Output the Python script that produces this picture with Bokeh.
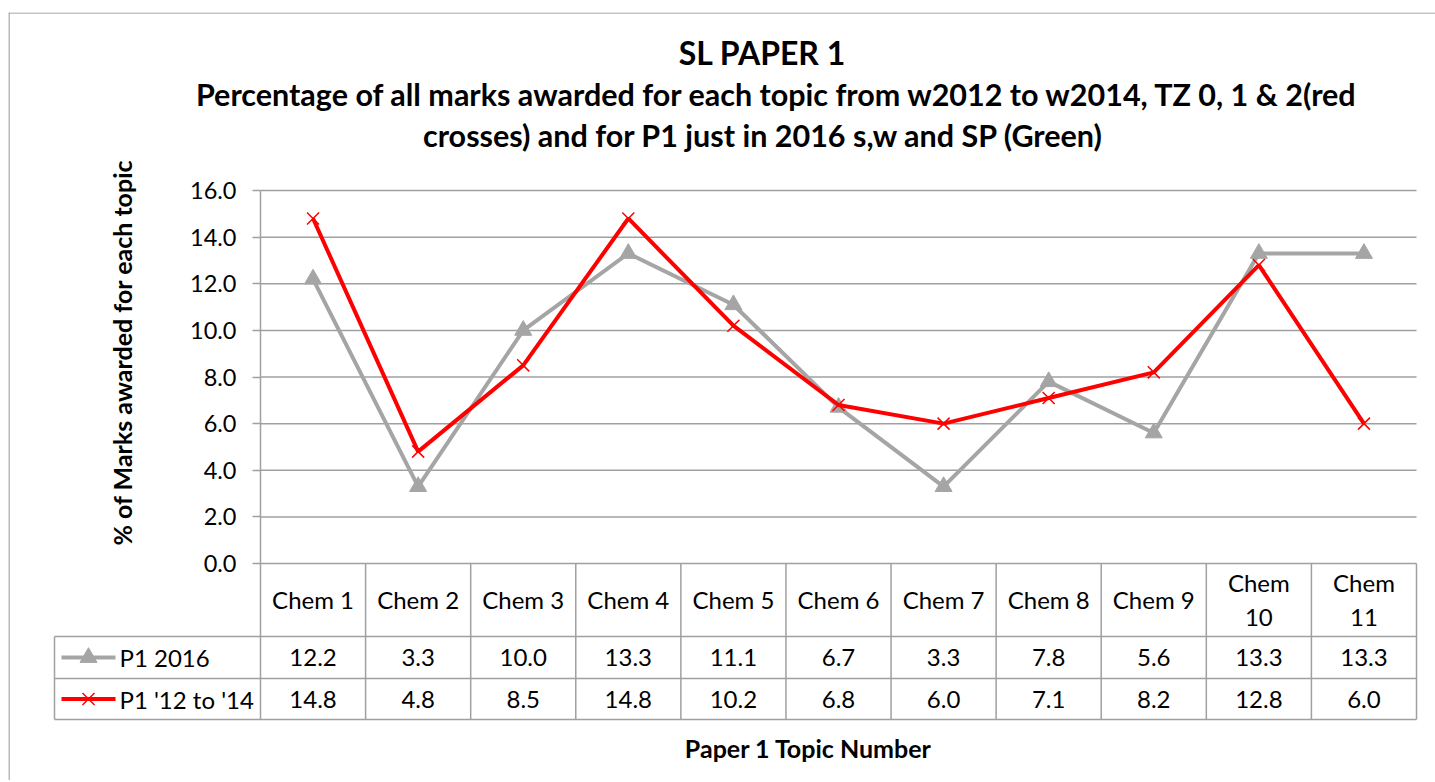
import math
from bokeh.plotting import figure
from bokeh.models import LinearAxis, FixedTicker, Range1d, NumeralTickFormatter
from bokeh.core.properties import value
from bokeh.embed import file_html
from bokeh.resources import INLINE

# ---------------- data ----------------
categories = ["Chem 1", "Chem 2", "Chem 3", "Chem 4", "Chem 5", "Chem 6",
              "Chem 7", "Chem 8", "Chem 9", "Chem\n10", "Chem\n11"]
p1_2016 = [12.2, 3.3, 10.0, 13.3, 11.1, 6.7, 3.3, 7.8, 5.6, 13.3, 13.3]
p1_12_14 = [14.8, 4.8, 8.5, 14.8, 10.2, 6.8, 6.0, 7.1, 8.2, 12.8, 6.0]
series_names = ["P1 2016", "P1 '12 to '14"]
y_ticks = [0, 2, 4, 6, 8, 10, 12, 14, 16]

title_text = "SL PAPER 1"
subtitle_lines = ["Percentage of all marks awarded for each topic from w2012 to w2014, TZ 0, 1 & 2(red",
                  "crosses) and for P1 just in 2016 s,w and SP (Green)"]
y_title = "% of Marks awarded for each topic"
x_title = "Paper 1 Topic Number"

# ---------------- layout (page pixels) ----------------
FONT = "Lato"
GRAY = "#a5a5a5"
RED = "#ff0000"
GRID = "#a0a0a0"

PAGE_L, PAGE_T = 8, 12
FW, FH = 1435 - PAGE_L, 780 - PAGE_T
PLOT_L, PLOT_R, PLOT_T, PLOT_B = 260, 1416, 190, 563
N = len(categories)
CW = (PLOT_R - PLOT_L) / N
PU = (PLOT_B - PLOT_T) / 16.0


def X(px):
    return (px - PLOT_L) / CW


def Y(py):
    return (PLOT_B - py) / PU


p = figure(frame_width=FW, frame_height=FH,
           x_range=Range1d(X(PAGE_L), X(PAGE_L + FW)),
           y_range=Range1d(Y(PAGE_T + FH), Y(PAGE_T)),
           x_axis_type=None, y_axis_type=None,
           toolbar_location=None, output_backend="svg",
           min_border=0, min_border_left=PAGE_L, min_border_top=PAGE_T,
           outline_line_color=None, background_fill_color="white",
           border_fill_color="white")

# outer chart border (top and left visible)
p.line(x=[X(PAGE_L), X(PAGE_L + FW)], y=[Y(PAGE_T + 0.5)] * 2, line_color="#8c8c8c", line_width=1.2)
p.line(x=[X(PAGE_L + 0.5)] * 2, y=[Y(PAGE_T), Y(PAGE_T + FH)], line_color="#8c8c8c", line_width=1.2)

# y axis
yaxis = LinearAxis(fixed_location=0, bounds=(0, 16),
                   ticker=FixedTicker(ticks=y_ticks),
                   formatter=NumeralTickFormatter(format="0.0"),
                   axis_line_color=GRID, axis_line_width=1.5,
                   major_tick_line_color=GRID, major_tick_line_width=1.5,
                   major_tick_out=8, major_tick_in=0,
                   minor_tick_line_color=None,
                   major_label_text_font=FONT, major_label_text_font_size="23.5px",
                   major_label_text_color="black", major_label_standoff=16)
p.add_layout(yaxis, "left")

# horizontal gridlines
p.segment(x0=[0] * len(y_ticks), x1=[N] * len(y_ticks), y0=y_ticks, y1=y_ticks,
          line_color=GRID, line_width=1.5)

# ---------------- data table ----------------
row1_b, row2_b, row3_b = Y(636), Y(678), Y(719)
leg_l = X(54)
p.segment(x0=list(range(N + 1)), x1=list(range(N + 1)), y0=[0] * (N + 1), y1=[row3_b] * (N + 1),
          line_color=GRID, line_width=1.5)
p.segment(x0=[leg_l], x1=[leg_l], y0=[row1_b], y1=[row3_b], line_color=GRID, line_width=1.5)
p.segment(x0=[leg_l] * 3, x1=[N] * 3, y0=[row1_b, row2_b, row3_b], y1=[row1_b, row2_b, row3_b],
          line_color=GRID, line_width=1.5)

TS = "24px"
xc = [i + 0.5 for i in range(N)]
p.text(x=xc, y=[Y(599)] * N, text=categories, text_align="center", text_baseline="middle",
       text_font=value(FONT), text_font_size=TS, text_color="black", text_line_height=1.15)
p.text(x=xc, y=[Y(657)] * N, text=[f"{v:.1f}" for v in p1_2016], text_align="center",
       text_baseline="middle", text_font=value(FONT), text_font_size=TS, text_color="black")
p.text(x=xc, y=[Y(698.5)] * N, text=[f"{v:.1f}" for v in p1_12_14], text_align="center",
       text_baseline="middle", text_font=value(FONT), text_font_size=TS, text_color="black")

# legend keys in table
p.line(x=[X(61), X(115)], y=[Y(657)] * 2, line_color=GRAY, line_width=4)
p.scatter(x=[X(88)], y=[Y(657)], marker="triangle", size=17, fill_color=GRAY, line_color=GRAY)
p.line(x=[X(61), X(115)], y=[Y(698.5)] * 2, line_color=RED, line_width=4)
p.scatter(x=[X(88)], y=[Y(698.5)], marker="x", size=17, line_color=RED, line_width=1.5)
p.text(x=[X(119)] * 2, y=[Y(657), Y(698.5)], text=series_names, text_align="left",
       text_baseline="middle", text_font=value(FONT), text_font_size=TS, text_color="black")

# ---------------- series ----------------
p.line(x=xc, y=p1_2016, line_color=GRAY, line_width=4)
p.scatter(x=xc, y=p1_2016, marker="triangle", size=17, fill_color=GRAY, line_color=GRAY)
p.line(x=xc, y=p1_12_14, line_color=RED, line_width=4)
p.scatter(x=xc, y=p1_12_14, marker="x", size=17, line_color=RED, line_width=1.5)

# ---------------- titles ----------------
p.text(x=[X(762)], y=[Y(52)], text=[title_text], text_align="center", text_baseline="alphabetic",
       text_font=value(FONT), text_font_style="bold", text_font_size="32px", text_color="black")
# the svg backend measures "&" as an escaped entity, so line 1 is shifted to compensate
p.text(x=[X(777), X(763)], y=[Y(93), Y(134)], text=subtitle_lines, text_align="center",
       text_baseline="alphabetic", text_font=value(FONT), text_font_style="bold",
       text_font_size="30.5px", text_color="black")
p.text(x=[X(121)], y=[Y(352)], text=[y_title], angle=math.pi / 2, text_align="center",
       text_baseline="middle", text_font=value(FONT), text_font_style="bold",
       text_font_size="25px", text_color="black")
p.text(x=[X(808)], y=[Y(747)], text=[x_title], text_align="center", text_baseline="middle",
       text_font=value(FONT), text_font_style="bold", text_font_size="25px", text_color="black")

open("out.html", "w").write(file_html(p, INLINE))
